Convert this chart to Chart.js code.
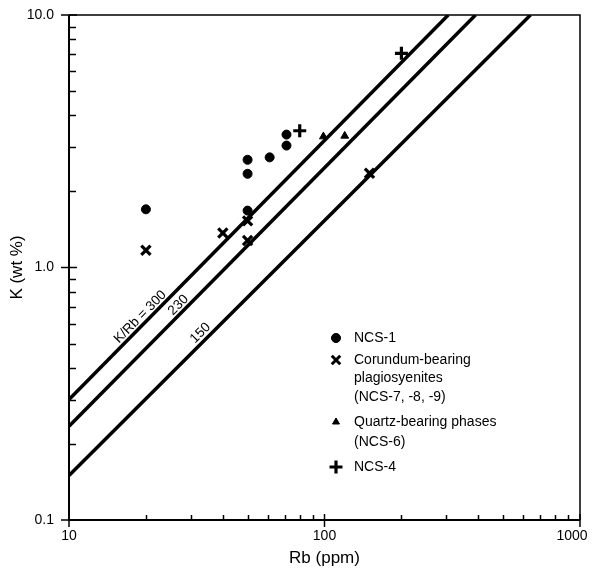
<!DOCTYPE html>
<html>
<head>
<meta charset="utf-8">
<script src="https://cdn.jsdelivr.net/npm/chart.js@4/dist/chart.umd.min.js"></script>
<style>
  html, body { margin: 0; background: #fff; }
  #wrap { width: 592px; height: 576px; }
</style>
</head>
<body>
<div id="wrap"><canvas id="grafica"></canvas></div>
<script>
// datos
const rbNcs1 = [20, 50, 50, 50, 61, 71, 71];
const kNcs1 = [1.70, 2.67, 2.35, 1.68, 2.73, 3.36, 3.04];
const rbCorundum = [20, 40, 50, 50, 150];
const kCorundum = [1.17, 1.37, 1.53, 1.28, 2.36];
const rbQuartz = [99, 120];
const kQuartz = [3.30, 3.32];
const rbNcs4 = [80, 200];
const kNcs4 = [3.48, 7.05];

// rectas K/Rb
const ratioNames = ["K/Rb = 300", "230", "150"];
const ratioRb = [[10, 305], [10, 390], [10, 640]];
const ratioK = [[0.30, 10], [0.235, 10], [0.15, 10]];
const ratioLabelRb = [19, 26.8, 32.7];
const ratioLabelK = [0.637, 0.71, 0.55];

// ejes
const xTicks = [10, 100, 1000];
const xTickLabels = ["10", "100", "1000"];
const yTicks = [0.1, 1, 10];
const yTickLabels = ["0.1", "1.0", "10.0"];
const minorFactors = [2, 3, 4, 5, 6, 7, 8, 9];

const FONT = "Liberation Sans, Arial, Helvetica, sans-serif";

const toXY = (xs, ys) => xs.map((x, i) => ({ x: x, y: ys[i] }));

const ratioSets = ratioNames.map((name, i) => ({
  label: name,
  data: toXY(ratioRb[i], ratioK[i]),
  showLine: true,
  borderColor: "#000",
  borderWidth: 3.5,
  pointRadius: 0,
  fill: false
}));

const pointSets = [
  { label: "NCS-1", data: toXY(rbNcs1, kNcs1), pointStyle: "circle", pointRadius: 4.5, backgroundColor: "#000", borderColor: "#000", borderWidth: 1 },
  { label: "Corundum", data: toXY(rbCorundum, kCorundum), pointStyle: "crossRot", pointRadius: 6.5, backgroundColor: "#000", borderColor: "#000", borderWidth: 3.2 },
  { label: "Quartz", data: toXY(rbQuartz, kQuartz), pointStyle: "triangle", pointRadius: 4.5, backgroundColor: "#000", borderColor: "#000", borderWidth: 1 },
  { label: "NCS-4", data: toXY(rbNcs4, kNcs4), pointStyle: "cross", pointRadius: 6.5, backgroundColor: "#000", borderColor: "#000", borderWidth: 3.2 }
];

const legendRows = [
  { style: "circle", r: 4.5, bw: 1, text: "NCS-1", y: 338 },
  { style: "crossRot", r: 6, bw: 3, text: "Corundum-bearing", y: 360 },
  { style: null, text: "plagiosyenites", y: 378 },
  { style: null, text: "(NCS-7, -8, -9)", y: 397 },
  { style: "triangle", r: 4, bw: 1, text: "Quartz-bearing phases", y: 422 },
  { style: null, text: "(NCS-6)", y: 442 },
  { style: "cross", r: 6.5, bw: 3.2, text: "NCS-4", y: 467 }
];

const decoraciones = {
  id: "decoraciones",
  afterDraw(chart) {
    const ctx = chart.ctx;
    const a = chart.chartArea;
    const sx = chart.scales.x, sy = chart.scales.y;
    ctx.save();
    ctx.strokeStyle = "#000";
    ctx.fillStyle = "#000";

    // marco
    ctx.lineWidth = 1.5;
    ctx.beginPath();
    ctx.moveTo(a.left, a.top); ctx.lineTo(a.right, a.top); ctx.lineTo(a.right, a.bottom);
    ctx.stroke();
    ctx.lineWidth = 2;
    ctx.beginPath();
    ctx.moveTo(a.left, a.top); ctx.lineTo(a.left, a.bottom); ctx.lineTo(a.right, a.bottom);
    ctx.stroke();

    // marcas menores
    ctx.lineWidth = 1.5;
    [1, 10].forEach(d => minorFactors.forEach(f => {
      const px = Math.round(sx.getPixelForValue(d * 10 * f)) + 0.5;
      ctx.beginPath(); ctx.moveTo(px, a.bottom); ctx.lineTo(px, a.bottom - 5); ctx.stroke();
    }));
    [0.1, 1].forEach(d => minorFactors.forEach(f => {
      const py = Math.round(sy.getPixelForValue(d * f)) + 0.5;
      ctx.beginPath(); ctx.moveTo(a.left, py); ctx.lineTo(a.left + 7, py); ctx.stroke();
    }));
    // marcas mayores
    xTicks.forEach(v => {
      const px = sx.getPixelForValue(v);
      ctx.beginPath(); ctx.moveTo(px, a.bottom - 6); ctx.lineTo(px, a.bottom + 7); ctx.stroke();
    });
    yTicks.forEach(v => {
      const py = sy.getPixelForValue(v);
      ctx.beginPath(); ctx.moveTo(a.left - 8, py); ctx.lineTo(a.left + 8, py); ctx.stroke();
    });

    // etiquetas de ejes
    ctx.font = "14px " + FONT;
    ctx.textBaseline = "middle";
    ctx.textAlign = "right";
    yTicks.forEach((v, i) => ctx.fillText(yTickLabels[i], a.left - 15, sy.getPixelForValue(v)));
    ctx.textAlign = "center";
    xTicks.forEach((v, i) => {
      let px = sx.getPixelForValue(v);
      if (i === xTicks.length - 1) px -= 8;
      ctx.fillText(xTickLabels[i], px, a.bottom + 16);
    });

    // titulos
    ctx.font = "17px " + FONT;
    ctx.fillText("Rb (ppm)", (a.left + a.right) / 2, 558);
    ctx.save();
    ctx.translate(17, (a.top + a.bottom) / 2);
    ctx.rotate(-Math.PI / 2);
    ctx.fillText("K (wt %)", 0, 0);
    ctx.restore();

    // etiquetas de las rectas
    ctx.font = "13.5px " + FONT;
    ratioNames.forEach((name, i) => {
      const x0 = sx.getPixelForValue(ratioRb[i][0]), y0 = sy.getPixelForValue(ratioK[i][0]);
      const x1 = sx.getPixelForValue(ratioRb[i][1]), y1 = sy.getPixelForValue(ratioK[i][1]);
      const ang = Math.atan2(y1 - y0, x1 - x0);
      ctx.save();
      ctx.translate(sx.getPixelForValue(ratioLabelRb[i]), sy.getPixelForValue(ratioLabelK[i]));
      ctx.rotate(ang);
      ctx.fillText(name, 0, 0);
      ctx.restore();
    });

    // leyenda
    ctx.font = "14px " + FONT;
    ctx.textAlign = "left";
    legendRows.forEach(row => {
      if (row.style) {
        ctx.lineWidth = row.bw;
        Chart.helpers.drawPoint(ctx, { pointStyle: row.style, radius: row.r, borderWidth: row.bw }, 336, row.y);
        ctx.fill();
      }
      ctx.fillText(row.text, 354, row.y);
    });
    ctx.restore();
  }
};

new Chart(document.getElementById("grafica"), {
  type: "scatter",
  data: { datasets: [...ratioSets, ...pointSets] },
  options: {
    responsive: true,
    maintainAspectRatio: false,
    animation: false,
    layout: { padding: { left: 69, right: 12, top: 15, bottom: 56 } },
    plugins: { legend: { display: false }, tooltip: { enabled: false } },
    scales: {
      x: { type: "logarithmic", min: 10, max: 1000, display: false },
      y: { type: "logarithmic", min: 0.1, max: 10, display: false }
    }
  },
  plugins: [decoraciones]
});
</script>
</body>
</html>
